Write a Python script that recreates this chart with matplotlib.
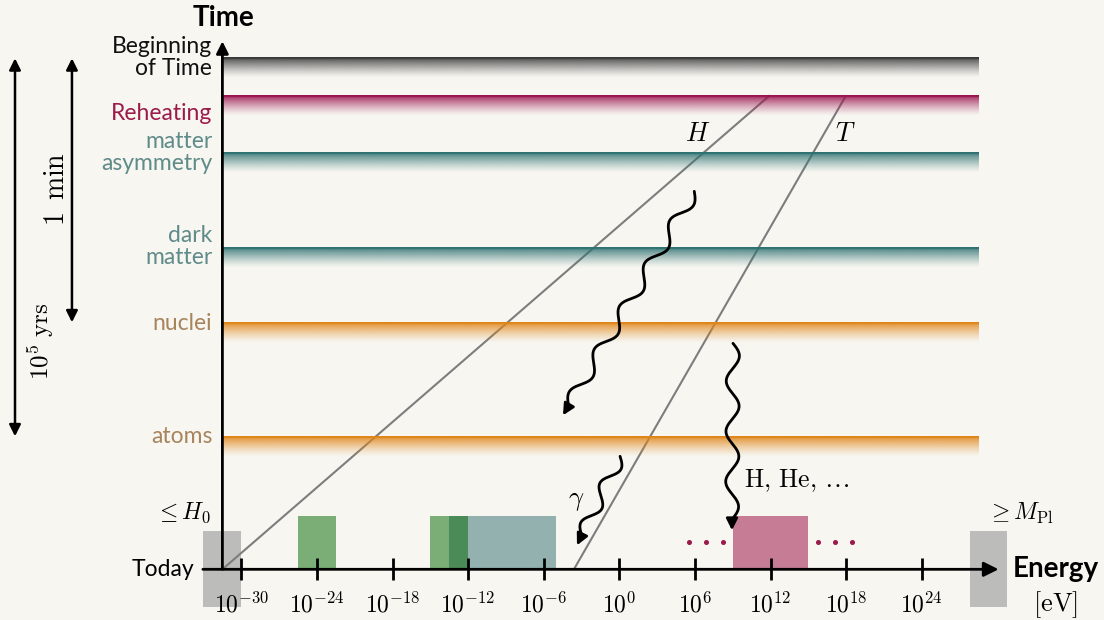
import numpy as np
import matplotlib
matplotlib.use("Agg")
import matplotlib.pyplot as plt
from matplotlib.patches import Rectangle
from matplotlib.colors import to_rgb

plt.rcParams['mathtext.fontset'] = 'cm'
plt.rcParams['font.family'] = ['Lato', 'DejaVu Sans']

# ---------------- data ----------------
# horizontal epochs (time coordinate, arbitrary units; 0 = today)
band_labels = ["Beginning\nof Time", "Reheating", "matter\nasymmetry", "dark\nmatter", "nuclei", "atoms"]
band_y = [512, 474, 417.5, 322.5, 247, 133]
label_y = [512, 456, 417, 323, 246, 133]
band_colors = ["#3a3a3a", "#9b1450", "#2f7272", "#2f7272", "#e0861a", "#e0861a"]
label_colors = ["#111111", "#9b1b4b", "#5f8b89", "#5f8b89", "#a8845c", "#a8845c"]

# energy ticks (log10 eV)
tick_exps = [-30, -24, -18, -12, -6, 0, 6, 12, 18, 24]

# energy ranges (log10 eV) of boxes
box_ranges = [(-25.5, -22.5), (-15, -13.5), (-13.5, -12), (-12, -5), (9, 15)]
box_colors = ["#7bad77", "#7bad77", "#4b8b58", "#93b1af", "#c57c94"]
box_height = 53

gray_ranges = [(-33, -30), (27.8, 30.8)]

# H and T lines: (logE at today, logE at reheating)
H_line = ((-31.5, 0), (11.95, 474))
T_line = ((-3.6, 0), (18.0, 474))

dots_left = [5.5, 6.85, 8.2]
dots_right = [15.75, 17.1, 18.45]
dots_y = 27

# wavy arrows (start, end) in (log10 E, time)
snakes = [((5.95, 378), (-4.47, 154)),
          ((0.06, 113), (-3.36, 24)),
          ((9.02, 226), (8.94, 39))]

# pixel scales
XS = 12.6   # px per decade
X0 = 619.3  # px of 10^0
Y0 = 569.3  # px of Today

W, Hh = 1104, 620
bg = "#f7f6f1"

fig = plt.figure(figsize=(W / 100, Hh / 100), dpi=100, facecolor=bg)
ax = fig.add_axes([0, 0, 1, 1])
ax.set_facecolor(bg)
ax.set_xlim((0 - X0) / XS, (W - X0) / XS)
ax.set_ylim(Y0 - Hh, Y0)
ax.axis('off')

x_yaxis = -31.5
x_end = 28.55

# gray boxes
for (a, b) in gray_ranges:
    ax.add_patch(Rectangle((a, -38), b - a, 76, color="#bcbcbb", zorder=1, lw=0))

# colored boxes
for (a, b), c in zip(box_ranges, box_colors):
    ax.add_patch(Rectangle((a, 0), b - a, box_height, color=c, zorder=1, lw=0))

# H and T lines
for (p0, p1) in (H_line, T_line):
    ax.plot([p0[0], p1[0]], [p0[1], p1[1]], color="#7d7d7d", lw=1.5, zorder=2,
            solid_capstyle='butt')

# gradient bands
N = 60
h = 21
for yb, c in zip(band_y, band_colors):
    r, g, b = to_rgb(c)
    img = np.zeros((N, 1, 4))
    t = np.linspace(0, 1, N)
    alpha = np.where(t < 0.1, 1.0, 0.8 * (1 - (t - 0.1) / 0.9) ** 1.3)
    img[:, 0, 0] = r
    img[:, 0, 1] = g
    img[:, 0, 2] = b
    img[:, 0, 3] = alpha
    ax.imshow(img, extent=[x_yaxis, x_end, yb - h, yb], aspect='auto',
              interpolation='bilinear', zorder=3, origin='upper')

# band labels
for lab, y, c in zip(band_labels, label_y, label_colors):
    ax.text(-32.3, y, lab, ha='right', va='center', color=c, fontsize=16.5,
            linespacing=1.05, zorder=5)

# axes arrows
ax.annotate('', xy=(30.1, 0), xytext=(-33.05, 0),
            arrowprops=dict(arrowstyle='-|>', color='k', lw=2, mutation_scale=22,
                            shrinkA=0, shrinkB=0), zorder=6)
ax.annotate('', xy=(x_yaxis, 528), xytext=(x_yaxis, 0),
            arrowprops=dict(arrowstyle='-|>', color='k', lw=2, mutation_scale=18,
                            shrinkA=0, shrinkB=0), zorder=6)

# ticks
for e in tick_exps:
    ax.plot([e, e], [-11, 11], color='k', lw=2, zorder=6, solid_capstyle='butt')
    ax.text(e, -35, r'$10^{%d}$' % e, ha='center', va='center', fontsize=17, zorder=6)

# dots
ax.plot(dots_left + dots_right, [dots_y] * 6, ls='none', marker='o', ms=2.6,
        color="#9b1b4b", zorder=5)

# wavy arrows
def snake(p0, p1, amp=6.5, wl=48.0, head=11):
    a = np.array([p0[0] * XS, p0[1]])
    b = np.array([p1[0] * XS, p1[1]])
    d = b - a
    L = np.hypot(*d)
    u = d / L
    n = np.array([-u[1], u[0]])
    Lw = L - head
    nhalf = max(1, int(round(2 * Lw / wl)))
    wl_eff = 2 * Lw / nhalf
    s = np.linspace(0, Lw, 600)
    off = amp * np.sin(2 * np.pi * s / wl_eff)
    pts = a[None, :] + s[:, None] * u[None, :] + off[:, None] * n[None, :]
    xs = pts[:, 0] / XS
    ys = pts[:, 1]
    ax.plot(xs, ys, color='k', lw=2, zorder=7, solid_capstyle='round')
    ax.annotate('', xy=p1, xytext=(xs[-1], ys[-1]),
                arrowprops=dict(arrowstyle='-|>', color='k', lw=2, mutation_scale=17,
                                shrinkA=0, shrinkB=0), zorder=7)

for p0, p1 in snakes:
    snake(p0, p1)

# math labels
ax.text(6.2, 436, r'$H$', fontsize=19, ha='center', va='center', zorder=6)
ax.text(17.9, 436, r'$T$', fontsize=19, ha='center', va='center', zorder=6)
ax.text(-3.4, 69, r'$\gamma$', fontsize=19, ha='center', va='center', zorder=6)
ax.text(9.9, 89, r'$\mathrm{H},\,\mathrm{He},\,\ldots$', fontsize=18.5, ha='left', va='center', zorder=6)
ax.text(-34.6, 56, r'$\leq H_0$', fontsize=17, ha='center', va='center', zorder=6)
ax.text(31.8, 56, r'$\geq M_{\mathrm{Pl}}$', fontsize=17, ha='center', va='center', zorder=6)
ax.text(34.65, -35, r'$[\mathrm{eV}]$', fontsize=19, ha='center', va='center', zorder=6)

# axis titles
ax.text(-31.4, 551, 'Time', fontsize=20, fontweight='bold', ha='center', va='center')
ax.text(31.2, 0, 'Energy', fontsize=20, fontweight='bold', ha='left', va='center')
ax.text(-33.7, 0, 'Today', fontsize=16.5, ha='right', va='center')

# left time-span arrows
ax.annotate('', xy=(-47.96, 133), xytext=(-47.96, 511),
            arrowprops=dict(arrowstyle='<|-|>', color='k', lw=1.8, mutation_scale=17,
                            shrinkA=0, shrinkB=0))
ax.annotate('', xy=(-43.44, 247), xytext=(-43.44, 511),
            arrowprops=dict(arrowstyle='<|-|>', color='k', lw=1.8, mutation_scale=17,
                            shrinkA=0, shrinkB=0))
ax.text(-44.7, 380, r'$\mathrm{1\ \,min}$', rotation=90, fontsize=20, ha='center', va='center')
ax.text(-45.9, 228, r'$10^5\ \mathrm{yrs}$', rotation=90, fontsize=18, ha='center', va='center')

fig.savefig('out.png', dpi=100, facecolor=bg)
